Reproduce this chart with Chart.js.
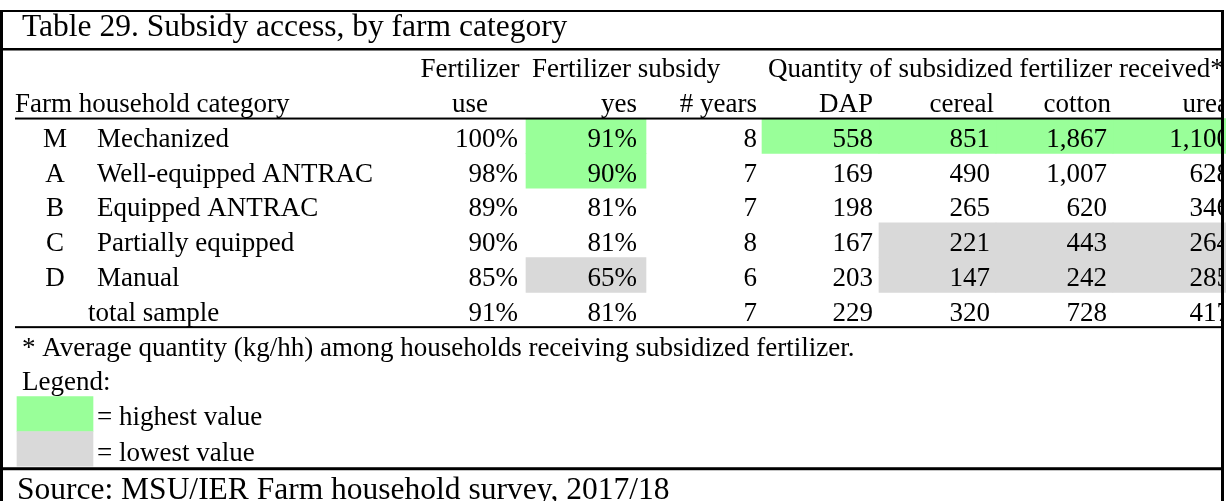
<!DOCTYPE html>
<html>
<head>
<meta charset="utf-8">
<script src="https://cdn.jsdelivr.net/npm/chart.js@4.4.1/dist/chart.umd.min.js"></script>
<style>
  html, body { margin: 0; padding: 0; background: #fff; overflow: hidden; }
  #wrap { width: 1226px; height: 501px; }
</style>
</head>
<body>
<div id="wrap"><canvas id="myChart" width="1226" height="501"></canvas></div>
<script>
const tableTitle = 'Table 29. Subsidy access, by farm category'
const sourceNote = 'Source: MSU/IER Farm household survey, 2017/18'
const footnote = '* Average quantity (kg/hh) among households receiving subsidized fertilizer.'
const legendTitle = 'Legend:'
const legendItems = ['= highest value', '= lowest value']

const groupHeads = ['Fertilizer', 'Fertilizer subsidy', 'Quantity of subsidized fertilizer received*']
const colHeads = ['Farm household category', 'use', 'yes', '# years', 'DAP', 'cereal', 'cotton', 'urea']

const codes = ['M', 'A', 'B', 'C', 'D', '']
const categories = ['Mechanized', 'Well-equipped ANTRAC', 'Equipped ANTRAC', 'Partially equipped', 'Manual', 'total sample']

const fertUse = [100, 98, 89, 90, 85, 91]
const subsidyYes = [91, 90, 81, 81, 65, 81]
const subsidyYears = [8, 7, 7, 8, 6, 7]
const dap = [558, 169, 198, 167, 203, 229]
const cereal = [851, 490, 265, 221, 147, 320]
const cotton = [1867, 1007, 620, 443, 242, 728]
const urea = [1100, 628, 346, 264, 285, 417]

// hi = highest value (green), lo = lowest value (grey)
const markYes = ['hi', 'hi', '', '', 'lo', '']
const markDap = ['hi', '', '', '', '', '']
const markCereal = ['hi', '', '', 'lo', 'lo', '']
const markCotton = ['hi', '', '', 'lo', 'lo', '']
const markUrea = ['hi', '', '', 'lo', 'lo', '']

// rows of the table below the title box, top to bottom
const rowKeys = ['head1', 'head2', 'M', 'A', 'B', 'C', 'D', 'total', 'note', 'legend', 'high', 'low', 'source']
const firstDataRow = 2

const GREEN = '#99ff99'
const GREY = '#d9d9d9'
const SERIF = "'Liberation Serif', 'Times New Roman', serif"

// column layout in x units (same as canvas pixels)
const colUse = { from: 410, to: 526, right: 518 }
const colYes = { from: 526, to: 646, right: 637 }
const colYears = { from: 646, to: 762, right: 757 }
const colDap = { from: 762, to: 879, right: 873 }
const colCereal = { from: 879, to: 996, right: 990 }
const colCotton = { from: 996, to: 1113, right: 1107 }
const colUrea = { from: 1113, to: 1230, right: 1230 }
const legendBox = { from: 17, to: 93 }

function cellDataset(marks, col) {
    const data = rowKeys.map(() => null)
    const colors = rowKeys.map(() => GREEN)
    marks.forEach((m, i) => {
        if (m) {
            data[i + firstDataRow] = [col.from, col.to]
            colors[i + firstDataRow] = m === 'hi' ? GREEN : GREY
        }
    })
    return { data: data, backgroundColor: colors }
}

function legendDataset() {
    const data = rowKeys.map(() => null)
    const colors = rowKeys.map(() => GREEN)
    data[rowKeys.indexOf('high')] = [legendBox.from, legendBox.to]
    data[rowKeys.indexOf('low')] = [legendBox.from, legendBox.to]
    colors[rowKeys.indexOf('low')] = GREY
    return { data: data, backgroundColor: colors }
}

const pct = v => v + '%'
const qty = v => v.toLocaleString('en-US')

const tablePlugin = {
    id: 'tableText',
    afterDatasetsDraw(chart) {
        const ctx = chart.ctx
        const xs = chart.scales.x
        const ys = chart.scales.y
        const area = chart.chartArea
        const half = (ys.getPixelForValue(1) - ys.getPixelForValue(0)) / 2
        const base = key => ys.getPixelForValue(rowKeys.indexOf(key)) + 11
        const edge = key => ys.getPixelForValue(rowKeys.indexOf(key)) - half
        const px = v => xs.getPixelForValue(v)

        function text(str, xv, y, align, size) {
            ctx.font = (size || 27) + 'px ' + SERIF
            ctx.textAlign = align
            ctx.textBaseline = 'alphabetic'
            ctx.fillStyle = '#000'
            ctx.fillText(str, px(xv), y)
        }

        ctx.save()
        ctx.beginPath()
        ctx.rect(0, 0, px(1221), chart.height)
        ctx.clip()

        text(tableTitle, 22, area.top - 13, 'left', 31.5)

        text(groupHeads[0], 470, base('head1'), 'center')
        text(groupHeads[1], 532, base('head1'), 'left')
        text(groupHeads[2], 768, base('head1'), 'left')

        text(colHeads[0], 15, base('head2'), 'left')
        text(colHeads[1], 470, base('head2'), 'center')
        text(colHeads[2], colYes.right, base('head2'), 'right')
        text(colHeads[3], colYears.right, base('head2'), 'right')
        text(colHeads[4], colDap.right, base('head2'), 'right')
        text(colHeads[5], colCereal.right + 4, base('head2'), 'right')
        text(colHeads[6], colCotton.right + 4, base('head2'), 'right')
        text(colHeads[7], colUrea.right - 1, base('head2'), 'right')

        categories.forEach((name, i) => {
            const y = base(rowKeys[i + firstDataRow])
            text(codes[i], 55, y, 'center')
            text(name, codes[i] ? 97 : 88, y, 'left')
            text(pct(fertUse[i]), colUse.right, y, 'right')
            text(pct(subsidyYes[i]), colYes.right, y, 'right')
            text(String(subsidyYears[i]), colYears.right, y, 'right')
            text(qty(dap[i]), colDap.right, y, 'right')
            text(qty(cereal[i]), colCereal.right, y, 'right')
            text(qty(cotton[i]), colCotton.right, y, 'right')
            text(qty(urea[i]), colUrea.right, y, 'right')
        })

        text(footnote, 22, base('note'), 'left')
        text(legendTitle, 22, base('legend'), 'left')
        text(legendItems[0], 97, base('high'), 'left')
        text(legendItems[1], 97, base('low') + 1, 'left')
        text(sourceNote, 17, ys.getPixelForValue(rowKeys.indexOf('source')) + 15, 'left', 31.5)
        ctx.restore()

        // rules and borders
        ctx.save()
        ctx.fillStyle = '#000'
        const right = px(1224)
        const boxTop = area.top - 38
        ctx.fillRect(0, boxTop - 1, right, 2)
        ctx.fillRect(0, area.top - 1, right, 2.5)
        ctx.fillRect(px(15), edge('M') - 1, right - px(15), 2)
        ctx.fillRect(px(15), edge('note') - 1, right - px(15), 2)
        ctx.fillRect(0, edge('source') + 1, right, 3)
        ctx.fillRect(0, boxTop - 1, 3, chart.height)
        ctx.fillRect(px(1221), boxTop - 1, 3, chart.height)
        ctx.restore()
    }
}

const config = {
    type: 'bar',
    data: {
        labels: rowKeys,
        datasets: [
            cellDataset(markYes, colYes),
            cellDataset(markDap, colDap),
            cellDataset(markCereal, colCereal),
            cellDataset(markCotton, colCotton),
            cellDataset(markUrea, colUrea),
            legendDataset()
        ]
    },
    options: {
        indexAxis: 'y',
        responsive: false,
        animation: false,
        events: [],
        layout: { padding: { top: 49, left: 0, right: 0, bottom: 0 } },
        datasets: {
            bar: { grouped: false, categoryPercentage: 1, barPercentage: 1, borderWidth: 0 }
        },
        scales: {
            x: { type: 'linear', min: 0, max: 1226, display: false },
            y: { type: 'category', display: false, offset: true }
        },
        plugins: {
            legend: { display: false },
            tooltip: { enabled: false },
            title: { display: false }
        }
    },
    plugins: [tablePlugin]
}

const myChart = new Chart(document.getElementById('myChart'), config)
</script>
</body>
</html>
